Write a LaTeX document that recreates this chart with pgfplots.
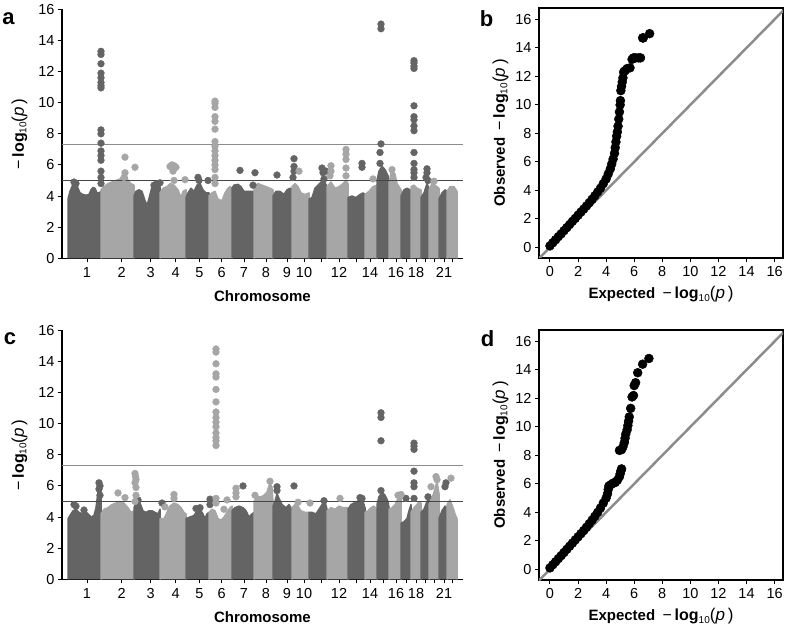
\documentclass[border=0pt]{standalone}
\usepackage{fontspec}
\setmainfont{Liberation Sans}
\usepackage{pgfplots}
\pgfplotsset{compat=1.18}
\definecolor{dk}{RGB}{100,100,100}
\definecolor{lt}{RGB}{166,166,166}
\definecolor{thrA}{RGB}{140,140,140}
\definecolor{thrB}{RGB}{70,70,70}
\definecolor{diag}{RGB}{140,140,140}
\newcommand{\mlog}{{\fontsize{16}{16}\selectfont −\,\textbf{log}}{\fontsize{10}{10}\selectfont\raisebox{-2.5pt}{10}}{\fontsize{17}{17}\selectfont(\textit{p}\,)}}
\pgfplotsset{
  manh/.style={scale only axis, width=401pt, height=249pt,
    xmin=62, xmax=463, ymin=0, ymax=16,
    axis x line=bottom, axis y line=left,
    axis line style={-, line width=1.3pt, black},
    tick align=outside, ytick={0,2,...,16},
    xtick={87,121.7,150.7,175.7,199.3,221.7,244,266,287,304,321,339,356,370,383,396,406,416,425,434,444,452},
    xticklabels={1,2,3,4,5,6,7,8,9,10,,12,,14,,16,,18,,,21,},
    major tick length=4pt, tick style={line width=1pt, black},
    tick label style={font=\fontsize{14.5}{14.5}\selectfont},
    xticklabel style={yshift=-1.5pt},
    /pgf/number format/assume math mode=true,
    xlabel={\bfseries Chromosome},
    ylabel={\mlog},
    label style={font=\fontsize{15}{15}\selectfont},
    xlabel shift=6pt, ylabel shift=4pt,
    anchor=south west},
  qq/.style={scale only axis, width=244pt, height=250pt,
    xmin=-0.78, xmax=16.6, ymin=-0.75, ymax=16.8,
    axis line style={line width=1.3pt, black},
    tick align=outside, xtick={0,2,...,16}, ytick={0,2,...,16},
    xtick pos=left, ytick pos=left,
    major tick length=4pt, tick style={line width=1pt, black},
    tick label style={font=\fontsize{14.5}{14.5}\selectfont},
    xticklabel style={yshift=-1pt},
    /pgf/number format/assume math mode=true,
    xlabel={\textbf{Expected}\enspace\mlog},
    ylabel={\textbf{Observed}\enspace\mlog},
    label style={font=\fontsize{15}{15}\selectfont},
    xlabel shift=3pt, ylabel shift=0pt,
    anchor=south west},
  dfill/.style={fill=dk, draw=dk, line width=1.5pt, line join=round, mark=none},
  lfill/.style={fill=lt, draw=lt, line width=1.5pt, line join=round, mark=none},
  dpts/.style={only marks, color=dk, mark=*, mark size=3.4pt, mark options={solid, draw=dk, fill=dk}},
  lpts/.style={only marks, color=lt, mark=*, mark size=3.4pt, mark options={solid, draw=lt, fill=lt}},
  qpts/.style={only marks, color=black, mark=*, mark size=4.5pt, mark options={solid, draw=black, fill=black}},
}
\begin{document}
\begin{tikzpicture}
\useasboundingbox (0,0) rectangle (787pt,630pt);
% ---------------- panel a ----------------
\begin{axis}[manh, at={(62pt,371.7pt)}]
\addplot[dfill] coordinates {(68,0)(68,3.8)(70,4.3)(72,4.6)(74,4.9)(76,4.85)(78,4.5)(80,4.2)(83,4.1)(86,4.05)(89,4.1)(91,4.4)(93,4.55)(95,4.5)(97,4.2)(99,4.2)(101,4.3)(101,0)};
\addplot[lfill] coordinates {(101,0)(101,4.4)(104,4.6)(108,4.8)(112,4.9)(116,5.0)(120,5.1)(124,5.3)(126,5.4)(128,5.0)(131,4.8)(134,4.7)(134,0)};
\addplot[dfill] coordinates {(134,0)(134,4.0)(136,4.3)(139,4.4)(142,4.3)(144,3.9)(146,3.5)(148,3.6)(150,4.1)(152,4.6)(155,4.7)(158,4.8)(160,4.6)(160,0)};
\addplot[lfill] coordinates {(160,0)(160,4.2)(163,4.5)(167,4.6)(170,4.8)(174,4.7)(178,4.4)(181,3.9)(183,4.3)(186,4.4)(186,0)};
\addplot[dfill] coordinates {(186,0)(186,3.9)(188,4.2)(191,4.5)(194,4.3)(197,4.7)(200,4.8)(203,4.4)(206,4.2)(209,4.2)(209,0)};
\addplot[lfill] coordinates {(209,0)(209,4.0)(212,4.2)(215,4.3)(218,3.8)(222,3.7)(225,4.2)(228,4.5)(230,4.6)(232,4.5)(232,0)};
\addplot[dfill] coordinates {(232,0)(232,4.5)(234,4.7)(238,4.75)(241,4.6)(244,4.3)(248,4.3)(252,4.3)(254,4.3)(254,0)};
\addplot[lfill] coordinates {(254,0)(254,4.6)(258,4.8)(262,4.7)(266,4.6)(270,4.5)(273,4.4)(273,0)};
\addplot[dfill] coordinates {(273,0)(273,4.0)(276,4.3)(280,4.3)(284,4.1)(287,4.4)(290,4.5)(292,4.5)(292,0)};
\addplot[lfill] coordinates {(292,0)(292,4.6)(295,4.8)(298,4.6)(301,4.2)(305,4.1)(309,4.2)(309,0)};
\addplot[dfill] coordinates {(309,0)(309,3.8)(312,3.9)(315,4.5)(318,4.7)(321,4.9)(324,5.0)(327,4.6)(327,0)};
\addplot[lfill] coordinates {(327,0)(327,4.6)(331,4.9)(335,4.5)(339,4.6)(343,4.8)(346,5.0)(348,4.8)(348,0)};
\addplot[dfill] coordinates {(348,0)(348,3.9)(352,4.0)(356,3.9)(360,4.1)(363,4.2)(365,4.1)(365,0)};
\addplot[lfill] coordinates {(365,0)(365,4.1)(369,4.3)(373,4.6)(377,4.7)(377,0)};
\addplot[dfill] coordinates {(377,0)(377,5.0)(379,5.6)(382,5.9)(385,5.7)(388,5.3)(389,4.6)(389,0)};
\addplot[lfill] coordinates {(389,0)(389,4.8)(391,5.5)(393,5.6)(395,5.4)(397,4.8)(399,4.6)(401,4.4)(401,0)};
\addplot[dfill] coordinates {(401,0)(401,4.0)(404,4.4)(407,4.5)(410,4.4)(411,4.3)(411,0)};
\addplot[lfill] coordinates {(411,0)(411,4.6)(414,4.7)(417,4.5)(421,4.4)(421,0)};
\addplot[dfill] coordinates {(421,0)(421,3.9)(424,4.2)(427,4.8)(429,4.5)(429,0)};
\addplot[lfill] coordinates {(429,0)(429,4.4)(432,4.8)(435,4.7)(439,4.5)(439,0)};
\addplot[dfill] coordinates {(439,0)(439,3.8)(442,4.2)(445,4.4)(447,4.3)(447,0)};
\addplot[lfill] coordinates {(447,0)(447,4.3)(450,4.6)(454,4.6)(457,4.3)(457,0)};
\addplot[dpts] coordinates {(74,4.9)(76,4.8)(101,13.3)(101,13.1)(101,12.5)(101,11.9)(101,11.6)(101,11.3)(101,11.1)(101,10.95)(101,8.25)(101,8.0)(101,7.4)(101,6.9)(101,6.6)(101,6.3)(101,5.6)(101,5.2)(101,4.8)
(154,4.7)(157,4.8)(160,4.85)(198,5.2)(199,5.0)(208,5.0)(240,5.65)(253,4.7)(255,5.5)
(277,5.35)(294,6.4)(294,5.9)(294,5.6)(293,5.2)(322,5.8)(323,5.5)(324,5.1)(326,5.6)
(362,6.1)(362,5.85)(381,15.05)(381,14.75)(381,7.35)(380,6.8)(380,6.1)
(414,12.7)(414,12.55)(414,12.35)(414,12.2)(414,9.8)(414,9.1)(414,8.9)(414,8.5)(414,8.2)(414,6.8)(414,6.1)(414,5.7)(414,5.5)(414,5.2)
(427,5.75)(427,5.5)(426,5.2)(428,5.0)};
\addplot[lpts] coordinates {(125,6.5)(125,5.5)(124,5.2)(135,5.85)(170,5.9)(172,6.0)(174,5.95)(176,5.85)(173,5.6)(174,5.0)(185,5.05)
(215,10.1)(215,9.95)(215,9.7)(215,9.1)(215,8.8)(215,8.3)(215,7.5)(215,7.2)(215,6.9)(215,6.6)(215,6.3)(215,6.0)(215,5.7)(215,5.2)(215,4.8)
(299,5.6)(331,5.95)(331,5.6)(330,5.3)(346,7.0)(346,6.7)(346,6.35)(346,5.8)(346,5.3)(373,5.1)(392,5.7)(434,4.95)};
\addplot[thrA, line width=1.2pt, mark=none] coordinates {(62,7.3)(463,7.3)};
\addplot[thrB, line width=1.2pt, mark=none] coordinates {(62,5)(463,5)};
\end{axis}
% ---------------- panel c ----------------
\begin{axis}[manh, at={(62pt,50.7pt)}]
\addplot[dfill] coordinates {(68,0)(68,3.9)(70,4.1)(73,4.4)(76,4.5)(79,4.3)(82,4.2)(85,4.4)(88,4.2)(91,4.0)(94,4.1)(96,4.6)(98,5.6)(100,6.0)(101,5.5)(101,0)};
\addplot[lfill] coordinates {(101,0)(101,4.2)(104,4.5)(108,4.6)(112,4.8)(116,4.9)(120,5.0)(124,4.9)(128,4.6)(131,4.3)(134,4.4)(134,0)};
\addplot[dfill] coordinates {(134,0)(134,4.6)(137,5.1)(140,4.9)(143,4.4)(146,4.3)(149,4.4)(152,4.4)(155,4.3)(158,4.2)(160,4.5)(160,0)};
\addplot[lfill] coordinates {(160,0)(160,3.9)(164,3.9)(167,4.3)(170,4.7)(174,4.9)(178,4.8)(181,4.6)(184,4.3)(186,4.2)(186,0)};
\addplot[dfill] coordinates {(186,0)(186,3.9)(190,4.0)(194,4.1)(197,4.4)(200,4.5)(203,4.2)(205,3.9)(207,4.2)(209,4.3)(209,0)};
\addplot[lfill] coordinates {(209,0)(209,4.3)(212,4.5)(215,4.4)(218,3.9)(221,3.8)(224,4.0)(227,4.3)(230,4.6)(232,4.7)(232,0)};
\addplot[dfill] coordinates {(232,0)(232,4.4)(235,4.6)(239,4.7)(243,4.6)(246,4.4)(249,4.0)(252,4.2)(254,4.3)(254,0)};
\addplot[lfill] coordinates {(254,0)(254,5.0)(257,5.3)(261,5.3)(264,5.4)(267,5.6)(270,6.2)(272,5.9)(273,5.0)(273,0)};
\addplot[dfill] coordinates {(273,0)(273,4.7)(275,5.0)(277,5.5)(279,5.2)(282,4.8)(286,4.6)(289,4.8)(292,4.5)(292,0)};
\addplot[lfill] coordinates {(292,0)(292,4.6)(295,4.8)(298,4.7)(301,4.4)(305,4.3)(309,4.3)(309,0)};
\addplot[dfill] coordinates {(309,0)(309,4.3)(312,4.3)(316,4.2)(319,4.5)(322,4.8)(325,5.0)(327,4.5)(327,0)};
\addplot[lfill] coordinates {(327,0)(327,4.4)(331,4.6)(335,4.5)(339,4.7)(343,4.6)(348,4.6)(348,0)};
\addplot[dfill] coordinates {(348,0)(348,4.5)(351,4.8)(354,4.9)(357,5.0)(360,5.1)(363,5.0)(365,4.6)(365,0)};
\addplot[lfill] coordinates {(365,0)(365,4.3)(368,4.4)(371,4.6)(374,4.7)(377,4.5)(377,0)};
\addplot[dfill] coordinates {(377,0)(377,4.8)(379,5.3)(382,5.6)(385,5.4)(388,5.0)(389,4.6)(389,0)};
\addplot[lfill] coordinates {(389,0)(389,4.5)(392,4.6)(395,4.8)(398,5.2)(401,5.3)(401,0)};
\addplot[dfill] coordinates {(401,0)(401,3.6)(404,3.7)(407,3.9)(409,4.4)(411,4.8)(411,0)};
\addplot[lfill] coordinates {(411,0)(411,4.3)(414,4.6)(417,4.8)(419,5.0)(421,4.9)(421,0)};
\addplot[dfill] coordinates {(421,0)(421,4.3)(424,4.5)(427,5.0)(429,5.2)(429,0)};
\addplot[lfill] coordinates {(429,0)(429,4.8)(432,5.2)(435,5.8)(437,6.3)(439,5.5)(439,0)};
\addplot[dfill] coordinates {(439,0)(439,3.9)(442,4.4)(445,4.7)(447,4.6)(447,0)};
\addplot[lfill] coordinates {(447,0)(447,4.8)(450,5.1)(453,4.6)(455,4.2)(457,3.9)(457,0)};
\addplot[dpts] coordinates {(74,4.8)(76,4.7)(84,4.45)(99,6.2)(100,6.0)(99,5.8)(100,5.4)(138,5.1)(162,4.9)
(196,4.55)(200,4.6)(210,5.15)(210,4.8)(243,6.0)(277,5.95)(277,5.7)(294,6.0)(324,5.05)(360,5.25)(362,5.2)
(381,10.7)(381,10.4)(381,8.9)(381,5.7)(406,5.2)
(414,8.75)(414,8.55)(414,8.35)(414,6.95)(414,6.2)(414,5.95)(414,5.2)(428,5.3)(446,6.2)(445,5.95)};
\addplot[lpts] coordinates {(118,5.55)(125,5.25)(135,6.8)(135.5,6.6)(136,6.4)(135,6.2)(136,5.9)(136,5.4)(135,5.0)
(174,5.45)(174,5.2)(165,4.65)
(216,14.8)(216,14.6)(216,13.85)(216,13.2)(216,13.0)(216,12.2)(216,11.4)(216,10.75)(216,10.4)(216,10.1)(216,9.8)(216,9.4)(216,9.1)(216,8.9)(216,8.6)(216,5.2)(216,4.9)(227,5.1)(224,4.5)
(236,5.85)(236,5.55)(236,5.3)(255,5.4)(270,6.3)(298,4.95)(310,4.9)(340,5.2)(398,5.4)(401,5.45)
(431,5.95)(436,6.6)(437,6.4)(451,6.5)};
\addplot[thrA, line width=1.2pt, mark=none] coordinates {(62,7.3)(463,7.3)};
\addplot[thrB, line width=1.2pt, mark=none] coordinates {(62,5)(463,5)};
\end{axis}
% ---------------- panel b ----------------
\begin{axis}[qq, at={(539pt,372pt)}]
\addplot[qpts] coordinates {(0,0.1)(0.2,0.32)(0.4,0.53)(0.6,0.75)(0.8,0.95)(1.0,1.17)(1.2,1.38)(1.4,1.6)(1.6,1.82)(1.8,2.03)(2.0,2.25)(2.2,2.47)(2.4,2.68)(2.6,2.9)(2.8,3.13)(3.0,3.37)(3.2,3.62)(3.4,3.88)(3.6,4.15)(3.8,4.47)(4.0,4.8)(4.15,5.15)(4.3,5.5)(4.4,5.85)(4.5,6.2)(4.6,6.6)(4.65,7.0)(4.7,7.4)(4.75,7.8)(4.8,8.1)(4.85,8.5)(4.9,9.0)(4.95,9.5)(5.0,10.0)(5.02,10.3)(5.05,11.0)(5.1,11.3)(5.15,11.6)(5.2,11.9)(5.25,12.3)(5.35,12.4)(5.5,12.55)(5.7,12.6)(5.85,13.2)(5.95,13.3)(6.1,13.3)(6.3,13.3)(6.45,13.3)(6.6,14.7)(6.65,14.7)(7.1,15.0)};
\addplot[diag, line width=2.5pt, mark=none] coordinates {(-1,-1)(17,17)};
\end{axis}
% ---------------- panel d ----------------
\begin{axis}[qq, at={(539pt,50pt)}]
\addplot[qpts] coordinates {(0,0.1)(0.2,0.32)(0.4,0.53)(0.6,0.75)(0.8,0.96)(1.0,1.18)(1.2,1.4)(1.4,1.62)(1.6,1.84)(1.8,2.06)(2.0,2.28)(2.2,2.5)(2.4,2.72)(2.6,2.95)(2.8,3.2)(3.0,3.45)(3.2,3.72)(3.4,4.0)(3.6,4.3)(3.8,4.65)(4.0,5.0)(4.1,5.3)(4.15,5.6)(4.2,5.85)(4.35,5.95)(4.5,6.05)(4.65,6.1)(4.8,6.25)(4.95,6.5)(5.0,6.7)(5.05,6.9)(5.1,7.05)(4.95,8.35)(5.1,8.4)(5.2,8.6)(5.3,8.9)(5.35,9.2)(5.4,9.5)(5.5,9.8)(5.55,10.1)(5.6,10.4)(5.65,10.7)(5.75,11.3)(5.85,12.1)(5.95,12.2)(6.0,12.9)(6.1,13.1)(6.25,13.8)(6.6,14.4)(7.05,14.8)};
\addplot[diag, line width=2.5pt, mark=none] coordinates {(-1,-1)(17,17)};
\end{axis}
% panel labels
\node[font=\bfseries\fontsize{22}{22}\selectfont] at (8.5pt,611pt) {a};
\node[font=\bfseries\fontsize{22}{22}\selectfont] at (486.5pt,611pt) {b};
\node[font=\bfseries\fontsize{22}{22}\selectfont] at (10pt,291pt) {c};
\node[font=\bfseries\fontsize{22}{22}\selectfont] at (487.5pt,291pt) {d};
\end{tikzpicture}
\end{document}
